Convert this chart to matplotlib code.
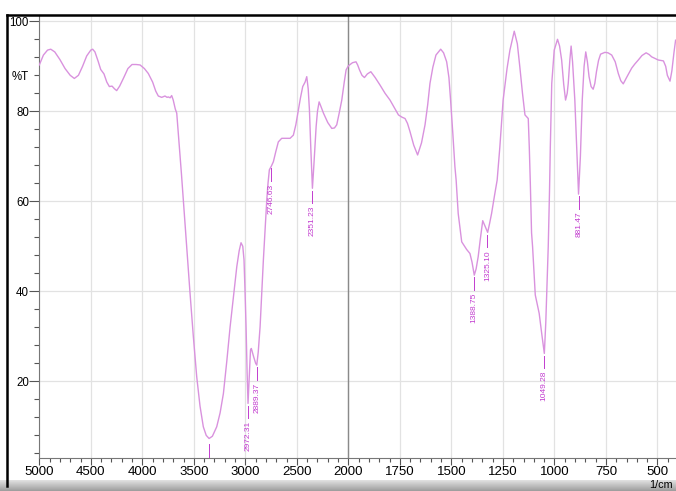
import matplotlib
matplotlib.use("Agg")
import matplotlib.pyplot as plt
import numpy as np
from matplotlib.lines import Line2D
from matplotlib.ticker import FixedLocator

# FTIR spectrum (wavenumber 1/cm, %T)
wavenumber = [
    5000, 4960, 4920, 4889, 4850, 4800, 4750, 4700, 4660, 4620, 4580, 4540,
    4500, 4482, 4460, 4430, 4404, 4372, 4345, 4320, 4294, 4270, 4249, 4220,
    4180, 4140, 4100, 4060, 4022, 3980, 3942, 3900, 3870, 3845, 3812, 3780,
    3760, 3748, 3730, 3715, 3700, 3680, 3666, 3640, 3620, 3602, 3570, 3537,
    3505, 3472, 3440, 3408, 3380, 3352, 3320, 3300, 3278, 3245, 3213, 3180,
    3148, 3115, 3083, 3060, 3042, 3025, 3013, 3003, 2993, 2983, 2974, 2960,
    2950, 2942, 2920, 2900, 2889, 2875, 2857, 2840, 2825, 2808, 2792, 2780,
    2767, 2748, 2728, 2705, 2680, 2647, 2600, 2566, 2534, 2510, 2485, 2465,
    2443, 2420, 2404, 2390, 2378, 2365, 2349, 2335, 2313, 2300, 2284, 2265,
    2242, 2200, 2161, 2135, 2113, 2090, 2064, 2040, 2022, 2000, 1980, 1963,
    1955, 1946, 1934, 1922, 1908, 1891, 1870, 1846, 1822, 1798, 1777, 1757,
    1740, 1725, 1713, 1701, 1683, 1664, 1645, 1628, 1615, 1604, 1590, 1575,
    1552, 1538, 1523, 1512, 1504, 1493, 1483, 1477, 1467, 1450, 1426, 1410,
    1400, 1389, 1380, 1370, 1360, 1348, 1337, 1324, 1315, 1305, 1290, 1278,
    1265, 1249, 1230, 1216, 1195, 1180, 1168, 1155, 1143, 1127, 1122, 1117,
    1111, 1106, 1093, 1074, 1060, 1049, 1042, 1035, 1030, 1024, 1020, 1013,
    1001, 985, 975, 965, 955, 946, 938, 933, 925, 919, 912, 901,
    892, 883, 874, 865, 856, 848, 840, 832, 822, 812, 804, 796,
    786, 776, 755, 740, 722, 705, 690, 678, 666, 650, 625, 610,
    593, 575, 555, 540, 528, 510, 496, 483, 471, 460, 452, 439,
    430, 420, 412,
]
transmittance = [
    90.3, 92.5, 93.6, 93.8, 93.2, 91.5, 89.5, 88.0, 87.3, 88.0, 90.0, 92.3,
    93.6, 93.8, 93.2, 91.2, 89.3, 88.3, 86.5, 85.5, 85.6, 85.0, 84.6, 85.6,
    87.5, 89.5, 90.4, 90.4, 90.3, 89.5, 88.4, 86.5, 84.5, 83.4, 83.1, 83.4,
    83.1, 83.2, 83.0, 83.5, 82.5, 80.5, 79.6, 72.0, 66.0, 60.3, 50.0, 39.6,
    30.0, 21.0, 14.5, 9.9, 8.0, 7.3, 7.8, 8.8, 9.9, 13.0, 17.3, 24.5,
    32.1, 39.0, 45.5, 49.0, 50.8, 50.0, 47.0, 40.0, 32.1, 22.0, 15.1, 22.0,
    27.0, 27.3, 25.5, 24.0, 23.6, 26.5, 32.1, 40.0, 47.0, 54.0, 60.3, 64.0,
    67.0, 67.8, 68.8, 71.0, 73.2, 74.0, 74.0, 74.0, 74.7, 77.0, 80.3, 83.0,
    85.5, 86.5, 87.7, 85.0, 80.3, 72.0, 62.9, 68.0, 76.6, 80.0, 82.1, 81.0,
    79.6, 77.5, 76.2, 76.3, 77.0, 79.5, 82.5, 86.5, 89.2, 90.1, 90.8, 91.0,
    90.3, 89.2, 88.0, 87.5, 88.3, 88.8, 87.5, 85.8, 84.0, 82.5, 80.8, 79.2,
    78.7, 78.4, 77.3, 75.5, 72.5, 70.3, 73.0, 77.0, 81.5, 86.2, 89.8, 92.5,
    93.8, 93.0, 91.0, 87.5, 82.5, 75.0, 67.7, 64.7, 57.3, 51.0, 49.3, 48.4,
    46.5, 43.6, 45.0, 47.7, 51.5, 55.7, 54.5, 53.1, 55.0, 57.3, 61.5, 64.7,
    72.0, 82.5, 89.5, 93.6, 97.8, 95.0, 89.9, 84.0, 79.2, 78.4, 72.0, 64.0,
    53.0, 49.9, 39.2, 35.1, 30.0, 26.2, 33.0, 42.5, 50.0, 62.0, 72.0, 86.2,
    93.6, 96.0, 94.5, 91.4, 86.0, 82.5, 84.0, 86.2, 91.5, 94.5, 91.0, 82.5,
    72.0, 61.6, 70.0, 82.5, 90.0, 93.2, 91.0, 87.7, 85.5, 84.9, 86.2, 88.8,
    91.3, 92.7, 93.1, 93.0, 92.5, 91.0, 88.4, 86.8, 86.1, 87.5, 89.6, 90.5,
    91.4, 92.4, 93.0, 92.6, 92.1, 91.7, 91.4, 91.3, 91.2, 90.0, 88.0, 86.7,
    89.0, 93.0, 95.8,
]

# labelled peaks
peak_wn = [2972.31, 2889.37, 2746.63, 2351.23, 1388.75, 1325.10, 1049.28, 881.47]
peak_t = [15.1, 23.6, 67.8, 62.9, 43.6, 53.1, 26.2, 61.6]
# the main O-H minimum only has a marker line
oh_wn = 3352
oh_t = 7.3

major_x = [5000, 4500, 4000, 3500, 3000, 2500, 2000, 1750, 1500, 1250, 1000, 750, 500]
minor_x = list(range(5000, 2000, -100)) + list(range(2000, 400, -50))
major_y = [20, 40, 60, 80, 100]
minor_y = list(range(4, 101, 4))

curve_color = "#d992de"
label_color = "#c23ccf"
narrow = ["Liberation Sans Narrow", "Liberation Sans", "DejaVu Sans"]


# spectrometer axis: below 2000 1/cm the scale is doubled
def forward(w):
    w = np.asarray(w, dtype=float)
    return np.where(w >= 2000, w, 2 * w - 2000)


def inverse(u):
    u = np.asarray(u, dtype=float)
    return np.where(u >= 2000, u, (u + 2000) / 2)


W, H = 676, 491
fig = plt.figure(figsize=(W / 100, H / 100), dpi=100)
fig.patch.set_facecolor("white")

ax = fig.add_axes([39.3 / W, 1 - 458.3 / H, 1 - 39.3 / W, (458.3 - 15) / H])
ax.set_xscale("function", functions=(forward, inverse))
ax.set_xlim(5000, 410)
ax.set_ylim(2.9, 101.4)

ax.xaxis.set_major_locator(FixedLocator(major_x))
ax.xaxis.set_minor_locator(FixedLocator(minor_x))
ax.yaxis.set_major_locator(FixedLocator(major_y))
ax.yaxis.set_minor_locator(FixedLocator(minor_y))
ax.set_xticklabels([str(v) for v in major_x], family=narrow, fontsize=9.5)
ax.set_yticklabels([str(v) for v in major_y], family="Liberation Sans", fontsize=8.3)
ax.xaxis.set_minor_formatter(plt.NullFormatter())

ax.tick_params(axis="x", which="major", direction="out", length=5, width=0.8,
               color="#555555", pad=0.5)
ax.tick_params(axis="x", which="minor", direction="out", length=3, width=0.8,
               color="#555555")
ax.tick_params(axis="y", which="major", direction="out", length=7, width=0.8,
               color="#555555", pad=0.5)
ax.tick_params(axis="y", which="minor", direction="out", length=3.5, width=0.8,
               color="#555555")

for s in ["top", "right"]:
    ax.spines[s].set_visible(False)
for s in ["left", "bottom"]:
    ax.spines[s].set_color("#777777")
    ax.spines[s].set_linewidth(0.8)

ax.grid(True, which="major", color="#e2e2e2", lw=0.9)
ax.set_axisbelow(True)
ax.axvline(2000, color="#8a8a8a", lw=1.0, zorder=1)

ax.plot(wavenumber, transmittance, color=curve_color, lw=1.0, zorder=3)

# peak markers and labels
for w, t in zip(peak_wn, peak_t):
    ax.plot([w, w], [t - 0.5, t - 3.3], color=label_color, lw=0.7, zorder=3)
    ax.text(w, t - 3.9, f"{w:.2f}", rotation=90, ha="center", va="top",
            fontsize=6, color=label_color, family="Liberation Sans", zorder=4)
ax.plot([oh_wn, oh_wn], [oh_t - 1.2, 2.9], color=label_color, lw=0.7, zorder=3)

ax.text(-0.043, 0.86, "%T", transform=ax.transAxes, fontsize=8.3,
        family="Liberation Sans", va="center", ha="left")

# window frame around the chart
fig.add_artist(Line2D([6.7 / W, 1], [1 - 14.7 / H, 1 - 14.7 / H], color="black",
                      lw=1.8, transform=fig.transFigure))
fig.add_artist(Line2D([6.7 / W, 6.7 / W], [1 - 14.7 / H, 1 - 486 / H], color="black",
                      lw=1.8, transform=fig.transFigure))

# grey status band at the bottom
band = fig.add_axes([0, 0, 1, 11 / H])
band.imshow(np.linspace(0.88, 0.62, 20).reshape(-1, 1), cmap="gray", vmin=0, vmax=1,
            aspect="auto", extent=[0, 1, 0, 1])
band.axis("off")
fig.text(673 / W, 1 - 485 / H, "1/cm", fontsize=7.8, family="Liberation Sans",
         va="center", ha="right", zorder=5)

fig.savefig("out.png", dpi=100)
